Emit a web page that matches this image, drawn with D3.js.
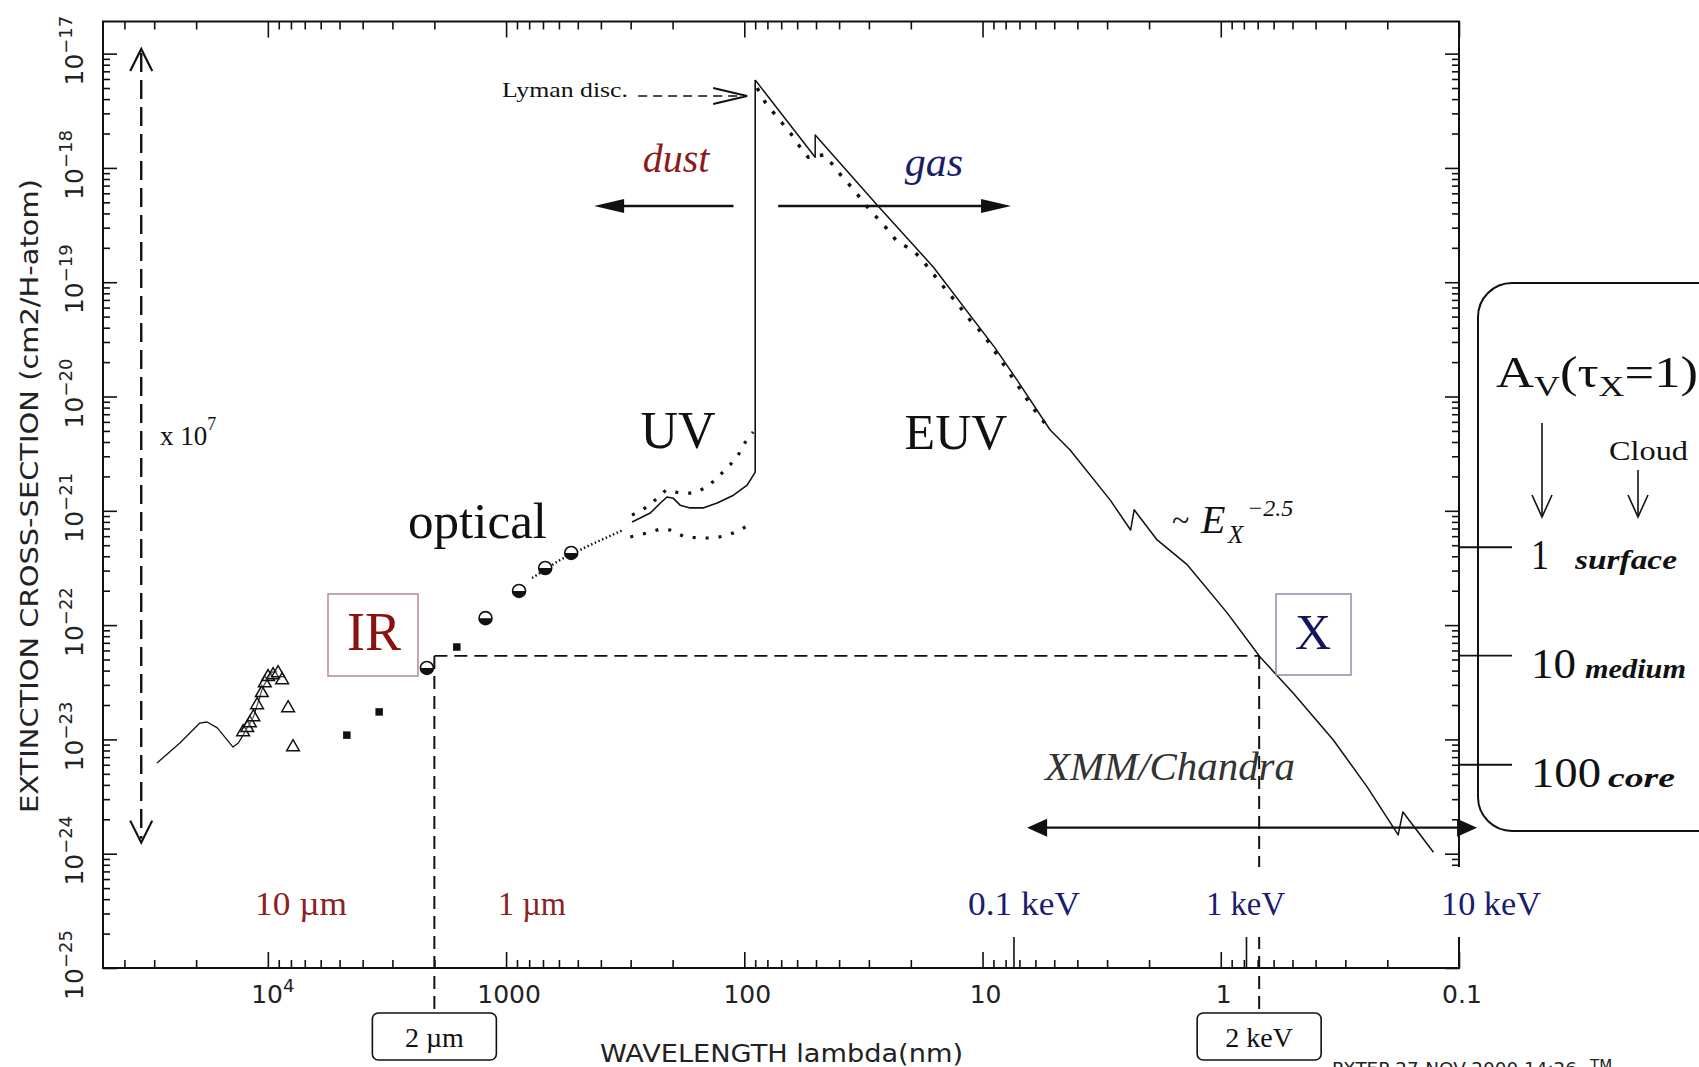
<!DOCTYPE html>
<html lang="en">
<head>
<meta charset="utf-8">
<title>extinction cross-section</title>
<script src="https://d3js.org/d3.v7.min.js"></script>
<style>
    body{margin:0;background:#fff;}
    svg{display:block;}
</style>
</head>
<body>
<div id="chart"></div>
<script>
// wavelength in nm, cross-section in cm2 per H atom
var irLine = [[29200,6.23e-24],[23400,9.3e-24],[19300,1.39e-23],[18000,1.42e-23],[16300,1.26e-23],[14000,8.57e-24],
    [13300,9.3e-24],[12700,1.09e-23],[11500,1.57e-23],[10500,2.87e-23],[9600,3.89e-23],[9140,3.89e-23]]
var irTriangles = [[12700,1.16e-23],[12200,1.26e-23],[11900,1.39e-23],[11500,1.57e-23],[11100,2.0e-23],[10600,2.55e-23],
    [10300,3.11e-23],[9980,3.52e-23],[9510,3.66e-23],[9060,3.81e-23],[8710,3.31e-23],[8220,1.88e-23],[7840,8.57e-24]]
var nirSquares = [[4660,1.09e-23],[3410,1.74e-23],[1610,6.43e-23]]
var opticalCircles = [[2150,4.22e-23],[1220,1.15e-22],[882,1.99e-22],[685,3.16e-22],[533,4.28e-22]]
var opticalDots = [[778,2.58e-22],[593,3.72e-22],[444,5.02e-22],[323,6.79e-22]]
var uvSolid = [[296,7.98e-22],[248,9.57e-22],[225,1.17e-21],[211,1.32e-21],[199,1.29e-21],[186,1.12e-21],[169,1.06e-21],
    [149,1.06e-21],[130,1.17e-21],[111,1.37e-21],[97.3,1.68e-21],[90,2.18e-21],[90,5.87e-18]]
var uvUpper = [[296,9.18e-22],[256,1.08e-21],[232,1.29e-21],[213,1.52e-21],[186,1.43e-21],[164,1.43e-21],[143,1.61e-21],
    [118,2.37e-21],[107,2.96e-21],[101,3.77e-21],[91.8,4.89e-21]]
var uvLower = [[301,5.9e-22],[256,6.4e-22],[225,6.93e-22],[205,6.79e-22],[177,5.9e-22],[153,5.78e-22],[133,5.78e-22],
    [117,6.14e-22],[104,6.79e-22],[91.8,7.98e-22]]
var gasSolid = [[90,5.87e-18],[50.4,1.24e-18],[50.4,1.94e-18],[27.7,4.73e-19],[16.1,1.36e-19],[8.85,2.65e-20],[7.16,1.39e-20],
    [5.2,5.09e-21],[4.29,3.4e-21],[2.91,1.24e-21],[2.39,6.79e-22],[2.31,1.02e-21],[1.85,5.56e-22],[1.38,3.36e-22],
    [0.94,1.28e-22],[0.684,5.26e-23],[0.497,2.55e-23],[0.337,9.89e-24],[0.243,3.84e-24],[0.18,1.46e-24],[0.172,2.32e-24],[0.128,1.03e-24]]
var gasDotted = [[88.3,5.0e-18],[81.9,3.78e-18],[75.7,3.08e-18],[69.4,2.47e-18],[63.6,1.98e-18],[58.3,1.52e-18],[54.0,1.24e-18],
    [46.2,1.3e-18],[42.4,1.06e-18],[38.8,8.32e-19],[35.2,6.67e-19],[32.6,5.46e-19],[30.2,4.46e-19],[24.9,2.86e-19],[22.8,2.25e-19],
    [19.6,1.91e-19],[17.9,1.56e-19],[13.9,8.05e-20],[12.6,6.32e-20],[11.6,4.97e-20],[10.5,3.97e-20],[9.57,3.12e-20],[6.14,7.92e-21],[5.2,5.09e-21]]

var xMajorTicks = [1e4,1000,100,10,1,0.1]
var xTickLabels = [["10","4"],["1000"],["100"],["10"],["1"],["0.1"]]
var yMajorTicks = [1e-17,1e-18,1e-19,1e-20,1e-21,1e-22,1e-23,1e-24,1e-25]
var yTickExponents = ["\u221217","\u221218","\u221219","\u221220","\u221221","\u221222","\u221223","\u221224","\u221225"]
var energyTicks = [7.38,0.78]

// reference lines: 2 micron / 2 keV at the same cross-section
var refLevel = 5.37e-23
var refWaves = [2000,0.69]
var refLabels = ["2 \u00b5m","2 keV"]

var waveLabels = ["10 \u00b5m","1 \u00b5m"]
var energyLabels = ["0.1 keV","1 keV","10 keV"]

var avLevels = [4.8e-22,5.4e-23,6.0e-24]
var avLabels = ["1","10","100"]
var cloudLabels = ["surface","medium","core"]

var lymanArrow = [[279,4.26e-18],[97.3,4.26e-18]]
var dustArrow = [[111,4.65e-19],[427,4.65e-19]]
var gasArrow = [[72.1,4.65e-19],[7.59,4.65e-19]]
var xmmArrow = [[6.5,1.69e-24],[0.084,1.69e-24]]
var scaleArrow = [[34000,1.1e-17],[34000,1.25e-24]]

var W = 1699, H = 1067
var pL = 103, pR = 1459, pT = 21.5, pB = 968
var serif = "'Liberation Serif','Times New Roman',serif"
var sans = "'DejaVu Sans','Liberation Sans',sans-serif"
var darkRed = "#8b1a1a", navy = "#1c1c6e"

var x = d3.scaleLog().domain([49200,0.1]).range([pL,pR])
var y = d3.scaleLog().domain([1e-25,1.91e-17]).range([pB,pT])

var svg = d3.select("#chart").append("svg").attr("width",W).attr("height",H)
svg.append("rect").attr("width",W).attr("height",H).attr("fill","#fff")

function logTicks(lo,hi){
    var out = {major:[],minor:[]}
    for(var e=Math.floor(Math.log10(lo))-1; e<=Math.ceil(Math.log10(hi)); e++){
        for(var k=1;k<10;k++){
            var v = k*Math.pow(10,e)
            if(v>=lo*0.999 && v<=hi*1.001){
                if(k==1) out.major.push(v)
                else out.minor.push(v)
            }
        }
    }
    return out
}
var xt = logTicks(0.1,49200)
var yt = logTicks(1e-25,1.91e-17)

function addTicks(gen,tx,ty,vals,size){
    svg.append("g").attr("transform","translate("+tx+","+ty+")")
        .call(gen.tickValues(vals).tickSize(size).tickFormat(""))
        .call(function(g){g.select(".domain").remove()})
        .selectAll("line").attr("stroke","#111").attr("stroke-width",1.6)
}
addTicks(d3.axisBottom(x),0,pB,xt.major,-16)
addTicks(d3.axisBottom(x),0,pB,xt.minor,-8)
addTicks(d3.axisTop(x),0,pT,xt.major,-16)
addTicks(d3.axisTop(x),0,pT,xt.minor,-8)
addTicks(d3.axisLeft(y),pL,0,yt.major,-14)
addTicks(d3.axisLeft(y),pL,0,yt.minor,-7)
addTicks(d3.axisRight(y),pR,0,yt.major,-14)
addTicks(d3.axisRight(y),pR,0,yt.minor,-7)

svg.append("rect").attr("x",pL).attr("y",pT).attr("width",pR-pL).attr("height",pB-pT)
    .attr("fill","none").attr("stroke","#111").attr("stroke-width",2)

// tall energy ticks on the bottom axis
svg.selectAll(".eTick").data(energyTicks).enter().append("line")
    .attr("x1",d=>x(d)).attr("x2",d=>x(d)).attr("y1",pB).attr("y2",pB-31)
    .attr("stroke","#111").attr("stroke-width",1.6)

// tick labels
svg.selectAll(".xLab").data(xMajorTicks).enter().append("text")
    .attr("x",(d,i)=>x(d)+(xTickLabels[i].length>1?5:3)).attr("y",1003)
    .attr("text-anchor","middle").attr("font-family",sans).attr("font-size",25).attr("fill","#222")
    .each(function(d,i){
        var t = d3.select(this)
        t.append("tspan").text(xTickLabels[i][0])
        if(xTickLabels[i].length>1) t.append("tspan").attr("font-size",18).attr("dy",-11).text(xTickLabels[i][1])
    })
svg.selectAll(".yLab").data(yMajorTicks).enter().append("text")
    .attr("transform",d=>"translate(83,"+(y(d)-3)+") rotate(-90)")
    .attr("text-anchor","middle").attr("font-family",sans).attr("font-size",25).attr("fill","#222")
    .each(function(d,i){
        var t = d3.select(this)
        t.append("tspan").text("10")
        t.append("tspan").attr("font-size",18).attr("dy",-11).text(yTickExponents[i])
    })
svg.append("text").attr("transform","translate(38,496) rotate(-90)").attr("text-anchor","middle")
    .attr("font-family",sans).attr("font-size",25).attr("fill","#222")
    .attr("textLength",634).attr("lengthAdjust","spacingAndGlyphs")
    .text("EXTINCTION CROSS-SECTION (cm2/H-atom)")
svg.append("text").attr("x",600).attr("y",1062)
    .attr("font-family",sans).attr("font-size",25).attr("fill","#222")
    .attr("textLength",363).attr("lengthAdjust","spacingAndGlyphs")
    .text("WAVELENGTH lambda(nm)")
svg.append("text").attr("x",1332).attr("y",1075)
    .attr("font-family",sans).attr("font-size",18).attr("fill","#222")
    .attr("textLength",245).attr("lengthAdjust","spacingAndGlyphs")
    .text("PXTEP 27-NOV-2000 14:26")
svg.append("text").attr("x",1590).attr("y",1071)
    .attr("font-family",sans).attr("font-size",15).attr("fill","#222").text("TM")

// curves
var line = d3.line().x(d=>x(d[0])).y(d=>y(d[1]))
function drawLine(data,width,dash,cap){
    svg.append("path").datum(data).attr("d",line).attr("fill","none")
        .attr("stroke","#111").attr("stroke-width",width)
        .attr("stroke-dasharray",dash||null).attr("stroke-linecap",cap||"butt")
        .attr("stroke-linejoin","round")
}
drawLine(irLine,1.3)
drawLine(opticalDots,2.4,"1.5 2.5")
drawLine(uvSolid,1.6)
drawLine(gasSolid,1.5)
drawLine(uvUpper,3.2,"3 10")
drawLine(uvLower,3.2,"3 10")
drawLine(gasDotted,3.4,"3.5 10.5")

svg.selectAll(".tri").data(irTriangles).enter().append("path")
    .attr("d",d3.symbol(d3.symbolTriangle).size(70))
    .attr("transform",d=>"translate("+x(d[0])+","+y(d[1])+")")
    .attr("fill","#fff").attr("fill-opacity",0.3).attr("stroke","#111").attr("stroke-width",1.5)
svg.selectAll(".sq").data(nirSquares).enter().append("path")
    .attr("d",d3.symbol(d3.symbolSquare).size(56))
    .attr("transform",d=>"translate("+x(d[0])+","+y(d[1])+")").attr("fill","#111")
var circ = svg.selectAll(".circ").data(opticalCircles).enter().append("g")
    .attr("transform",d=>"translate("+x(d[0])+","+y(d[1])+")")
circ.append("circle").attr("r",6.5).attr("fill","#fff").attr("stroke","#111").attr("stroke-width",1.6)
circ.append("path").attr("d","M-6.5,0A6.5,6.5 0 0 0 6.5,0Z").attr("fill","#111")

// dashed reference lines to the 2 micron / 2 keV boxes
svg.append("line").attr("x1",x(refWaves[0])).attr("x2",x(refWaves[1])).attr("y1",y(refLevel)).attr("y2",y(refLevel))
    .attr("stroke","#111").attr("stroke-width",1.8).attr("stroke-dasharray","13 7")
svg.selectAll(".refV").data(refWaves).enter().append("line")
    .attr("x1",d=>x(d)).attr("x2",d=>x(d)).attr("y1",y(refLevel)).attr("y2",1013)
    .attr("stroke","#111").attr("stroke-width",2).attr("stroke-dasharray","13 7")
svg.selectAll(".refBox").data(refWaves).enter().append("rect")
    .attr("x",d=>x(d)-62).attr("y",1013).attr("width",124).attr("height",47).attr("rx",6)
    .attr("fill","#fff").attr("stroke","#111").attr("stroke-width",1.6)
svg.selectAll(".refTxt").data(refWaves).enter().append("text")
    .attr("x",d=>x(d)).attr("y",1047).attr("text-anchor","middle")
    .attr("font-family",serif).attr("font-size",28).attr("fill","#111")
    .text((d,i)=>refLabels[i])

// arrows
function head(tip,dir,len,half,open){
    var tx = tip[0], ty = tip[1]
    var bx = tx-dir[0]*len, by = ty-dir[1]*len
    var px = -dir[1]*half, py = dir[0]*half
    var pts = [[bx+px,by+py],[tx,ty],[bx-px,by-py]]
    if(open){
        svg.append("path").attr("d",d3.line()(pts)).attr("fill","none").attr("stroke","#111").attr("stroke-width",2.2)
    } else {
        svg.append("path").attr("d",d3.line()(pts)+"Z").attr("fill","#111")
    }
}
function pt(d){return [x(d[0]),y(d[1])]}

var s0 = pt(scaleArrow[0]), s1 = pt(scaleArrow[1])
svg.append("line").attr("x1",s0[0]).attr("x2",s1[0]).attr("y1",s0[1]+4).attr("y2",s1[1]-4)
    .attr("stroke","#111").attr("stroke-width",2.4).attr("stroke-dasharray","19 8")
head(s0,[0,-1],22,11,true)
head(s1,[0,1],22,11,true)

var l0 = pt(lymanArrow[0]), l1 = pt(lymanArrow[1])
svg.append("line").attr("x1",l0[0]).attr("x2",l1[0]-4).attr("y1",l0[1]).attr("y2",l1[1])
    .attr("stroke","#111").attr("stroke-width",1.6).attr("stroke-dasharray","9 6")
head(l1,[1,0],34,8,true)

var d0 = pt(dustArrow[0]), d1 = pt(dustArrow[1])
svg.append("line").attr("x1",d0[0]).attr("x2",d1[0]+20).attr("y1",d0[1]).attr("y2",d1[1])
    .attr("stroke","#111").attr("stroke-width",2.6)
head(d1,[-1,0],30,7,false)
var g0 = pt(gasArrow[0]), g1 = pt(gasArrow[1])
svg.append("line").attr("x1",g0[0]).attr("x2",g1[0]-20).attr("y1",g0[1]).attr("y2",g1[1])
    .attr("stroke","#111").attr("stroke-width",2.6)
head(g1,[1,0],30,7,false)
var m0 = pt(xmmArrow[0]), m1 = pt(xmmArrow[1])
svg.append("line").attr("x1",m0[0]+10).attr("x2",m1[0]-10).attr("y1",m0[1]).attr("y2",m1[1])
    .attr("stroke","#111").attr("stroke-width",2.4)
head(m0,[-1,0],20,9,false)
head(m1,[1,0],20,9,false)

// annotation texts
function label(tx,ty,txt,size,opts){
    opts = opts||{}
    var t = svg.append("text").attr("x",tx).attr("y",ty).text(txt)
        .attr("font-family",opts.family||serif).attr("font-size",size).attr("fill",opts.fill||"#111")
        .attr("text-anchor",opts.anchor||"start")
    if(opts.italic) t.attr("font-style","italic")
    if(opts.bold) t.attr("font-weight","bold")
    if(opts.len) t.attr("textLength",opts.len).attr("lengthAdjust","spacingAndGlyphs")
    return t
}
label(502,97,"Lyman disc.",21,{len:126})
label(676,172,"dust",40,{italic:true,fill:darkRed,anchor:"middle"})
label(934,176,"gas",42,{italic:true,fill:navy,anchor:"middle"})
label(678,448,"UV",52,{anchor:"middle"})
label(956,449,"EUV",50,{anchor:"middle"})
label(408,538,"optical",50,{len:139})
var xten = label(160,445,"x 10",27)
xten.append("tspan").attr("font-size",18).attr("dy",-15).text("7")

svg.append("rect").attr("x",328).attr("y",594).attr("width",90).attr("height",82)
    .attr("fill","#fff").attr("stroke","#b58b8b").attr("stroke-width",1.5)
label(374,650,"IR",54,{fill:"#8b1010",anchor:"middle"})
svg.append("rect").attr("x",1276).attr("y",594).attr("width",75).attr("height",81)
    .attr("fill","#fff").attr("stroke","#8c8cae").attr("stroke-width",1.5)
label(1313,649,"X",50,{fill:"#15155e",anchor:"middle"})

label(1172,531,"~",32)
label(1201,533,"E",40,{italic:true})
label(1228,543,"X",25,{italic:true})
label(1247,516,"\u22122.5",24,{italic:true})
label(1045,780,"XMM/Chandra",41,{italic:true,fill:"#333",len:250})

// wavelength / energy labels under the curve, on white
var waveX = [255,498], waveLen = [92,68]
waveLabels.forEach(function(t,i){
    svg.append("rect").attr("x",waveX[i]-3).attr("y",867).attr("width",waveLen[i]+6).attr("height",70).attr("fill","#fff")
    label(waveX[i],915,t,34,{fill:"#8b2222",len:waveLen[i]})
})
var enX = [968,1206,1441], enLen = [112,79,100]
energyLabels.forEach(function(t,i){
    svg.append("rect").attr("x",enX[i]-3).attr("y",867).attr("width",enLen[i]+6).attr("height",70).attr("fill","#fff")
    label(enX[i],915,t,34,{fill:navy,len:enLen[i]})
})

// A_V box on the right
svg.append("rect").attr("x",1478).attr("y",283).attr("width",280).attr("height",548).attr("rx",34)
    .attr("fill","none").attr("stroke","#111").attr("stroke-width",2)
svg.selectAll(".avTick").data(avLevels).enter().append("line")
    .attr("x1",pR).attr("x2",pR+53).attr("y1",d=>y(d)).attr("y2",d=>y(d))
    .attr("stroke","#111").attr("stroke-width",1.8)
var av = svg.append("text").attr("x",1496).attr("y",387).attr("font-family",serif).attr("fill","#111")
    .attr("textLength",202).attr("lengthAdjust","spacingAndGlyphs")
av.append("tspan").attr("font-size",44).text("A")
av.append("tspan").attr("font-size",30).attr("dy",9).text("V")
av.append("tspan").attr("font-size",44).attr("dy",-9).text("(\u03c4")
av.append("tspan").attr("font-size",30).attr("dy",9).text("X")
av.append("tspan").attr("font-size",44).attr("dy",-9).text("=1)")
label(1609,460,"Cloud",28,{len:79})
function downArrow(ax,y0,y1){
    svg.append("line").attr("x1",ax).attr("x2",ax).attr("y1",y0).attr("y2",y1).attr("stroke","#111").attr("stroke-width",1.6)
    svg.append("path").attr("d",d3.line()([[ax-10,y1-22],[ax,y1],[ax+10,y1-22]]))
        .attr("fill","none").attr("stroke","#111").attr("stroke-width",1.6)
}
downArrow(1542,423,517)
downArrow(1638,470,517)
var numLen = [18,45,70], wordX = [1575,1585,1608], wordLen = [102,101,67]
avLevels.forEach(function(v,i){
    label(1531,y(v)+22,avLabels[i],42,{len:numLen[i]})
    label(wordX[i],y(v)+22,cloudLabels[i],27,{italic:true,bold:true,len:wordLen[i]})
})
</script>
</body>
</html>
